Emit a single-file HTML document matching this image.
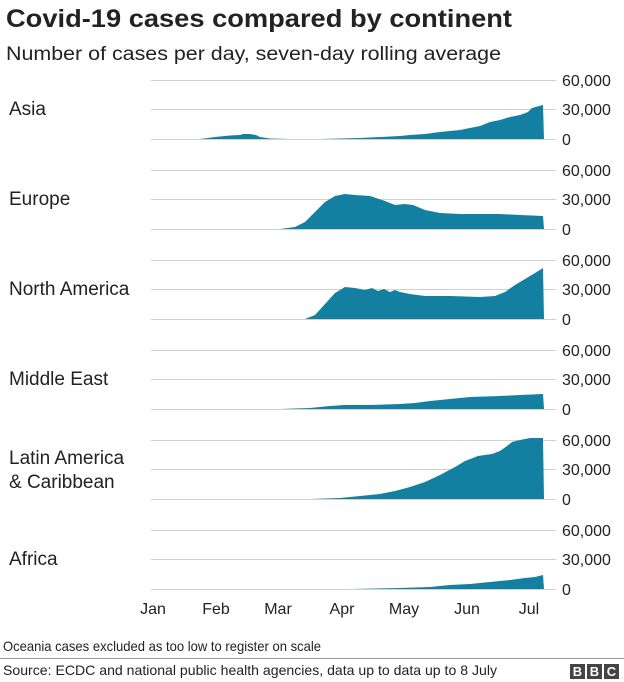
<!DOCTYPE html>
<html><head><meta charset="utf-8"><style>
html,body{margin:0;padding:0;background:#fff;}
svg{display:block;font-family:"Liberation Sans",Arial,sans-serif;}
</style></head><body>
<svg width="624" height="682" viewBox="0 0 624 682" xmlns="http://www.w3.org/2000/svg">
<text x="6" y="27" font-size="25" font-weight="bold" fill="#222" textLength="506" lengthAdjust="spacingAndGlyphs">Covid-19 cases compared by continent</text>
<text x="6" y="60" font-size="19" fill="#222" textLength="495" lengthAdjust="spacingAndGlyphs">Number of cases per day, seven-day rolling average</text>
<g stroke="#d0d0d0" stroke-width="1">
<line x1="151" y1="80.5" x2="556" y2="80.5"/><line x1="151" y1="109.5" x2="556" y2="109.5"/><line x1="151" y1="139.5" x2="556" y2="139.5"/>
<line x1="151" y1="170.5" x2="556" y2="170.5"/><line x1="151" y1="199.5" x2="556" y2="199.5"/><line x1="151" y1="229.5" x2="556" y2="229.5"/>
<line x1="151" y1="260.5" x2="556" y2="260.5"/><line x1="151" y1="289.5" x2="556" y2="289.5"/><line x1="151" y1="319.5" x2="556" y2="319.5"/>
<line x1="151" y1="350.5" x2="556" y2="350.5"/><line x1="151" y1="379.5" x2="556" y2="379.5"/><line x1="151" y1="409.5" x2="556" y2="409.5"/>
<line x1="151" y1="440.5" x2="556" y2="440.5"/><line x1="151" y1="469.5" x2="556" y2="469.5"/><line x1="151" y1="499.5" x2="556" y2="499.5"/>
<line x1="151" y1="530.5" x2="556" y2="530.5"/><line x1="151" y1="559.5" x2="556" y2="559.5"/><line x1="151" y1="589.5" x2="556" y2="589.5"/>
</g>
<g fill="#1380A1">
<polygon points="200,139 215,137 230,135.5 240,135 243,134 250,134 256,135 260,137 270,138.5 290,139 320,139 360,138 400,136 410,135 425,134 440,132 460,130 470,128 480,126 490,122 500,120 510,117 520,115 528,112 532,108 543,105 544,139"/>
<polygon points="280,229 295,227 305,222 315,212 325,202 335,196 345,194 355,195 370,196 385,201 395,205 405,204 413,205 425,210 440,213 460,214 500,214 520,215 543,216 544,229"/>
<polygon points="305,319 315,315 325,304 335,293 345,287 355,288 365,290 372,288 378,291 384,289 390,292 395,290 400,292 410,294 425,296 450,296 480,297 495,296 505,292 515,285 525,279 535,273 543,268 544,319"/>
<polygon points="280,409 310,408 330,406 345,405 370,405 400,404 415,403 430,401 450,399 470,397 500,396 520,395 543,394 544,409"/>
<polygon points="310,499 340,498 360,496 380,494 395,491 410,487 425,482 440,475 455,467 465,461 478,456 492,454 500,451 507,446 512,442 520,440 530,438 535,438 543,438 544,499"/>
<polygon points="300,589 350,589 400,588 430,587 450,585 470,584 490,582 510,580 525,578 535,577 543,575 544,589"/>
</g>
<g font-size="16" fill="#222">
<text x="562" y="86">60,000</text><text x="562" y="115">30,000</text><text x="562" y="145">0</text>
<text x="562" y="176">60,000</text><text x="562" y="205">30,000</text><text x="562" y="235">0</text>
<text x="562" y="266">60,000</text><text x="562" y="295">30,000</text><text x="562" y="325">0</text>
<text x="562" y="356">60,000</text><text x="562" y="385">30,000</text><text x="562" y="415">0</text>
<text x="562" y="446">60,000</text><text x="562" y="475">30,000</text><text x="562" y="505">0</text>
<text x="562" y="536">60,000</text><text x="562" y="565">30,000</text><text x="562" y="595">0</text>
</g>
<g font-size="19" fill="#222">
<text x="9" y="115">Asia</text>
<text x="9" y="205">Europe</text>
<text x="9" y="295">North America</text>
<text x="9" y="385">Middle East</text>
<text x="9" y="464">Latin America</text>
<text x="9" y="488">&amp; Caribbean</text>
<text x="9" y="565">Africa</text>
</g>
<g font-size="16" fill="#222" text-anchor="middle">
<text x="153" y="614">Jan</text><text x="216" y="614">Feb</text><text x="278" y="614">Mar</text><text x="342" y="614">Apr</text><text x="404" y="614">May</text><text x="467" y="614">Jun</text><text x="529" y="614">Jul</text>
</g>
<text x="3" y="651" font-size="14" fill="#222" textLength="318" lengthAdjust="spacingAndGlyphs">Oceania cases excluded as too low to register on scale</text>
<line x1="0" y1="658.5" x2="624" y2="658.5" stroke="#999" stroke-width="1"/>
<text x="3" y="675" font-size="14" fill="#222" textLength="494" lengthAdjust="spacingAndGlyphs">Source: ECDC and national public health agencies, data up to data up to 8 July</text>
<g fill="#444"><rect x="570" y="664" width="15" height="15"/><rect x="587" y="664" width="15" height="15"/><rect x="604" y="664" width="15" height="15"/></g>
<g font-size="13" font-weight="bold" fill="#fff" text-anchor="middle"><text x="577.5" y="676">B</text><text x="594.5" y="676">B</text><text x="611.5" y="676">C</text></g>
</svg>
</body></html>
